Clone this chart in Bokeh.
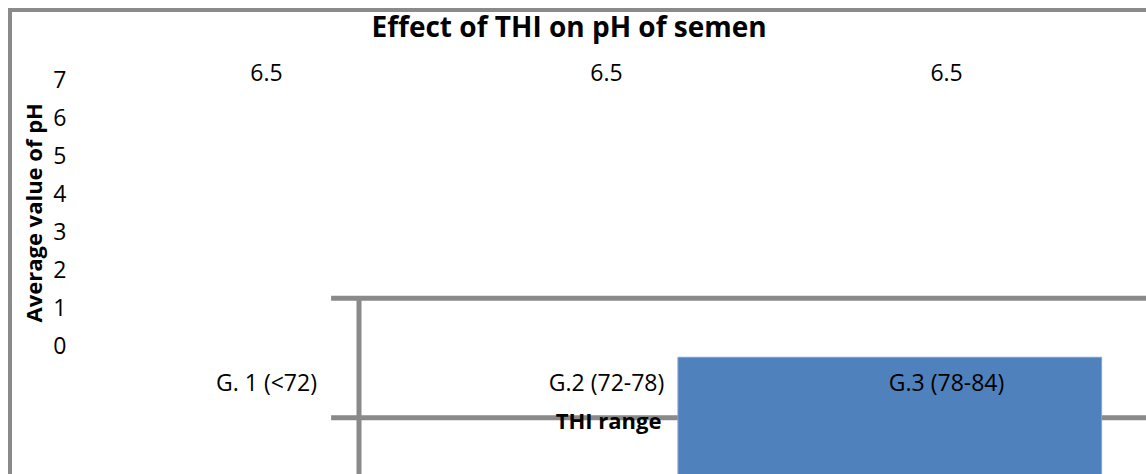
from bokeh.plotting import figure
from bokeh.models import Range1d, FixedTicker, Label, Title
from bokeh.core.properties import value
from bokeh.embed import file_html
from bokeh.resources import INLINE

# ---- chart content ----
categories = ["G. 1 (<72)", "G.2 (72-78)", "G.3 (78-84)"]
ph_values = [6.5, 6.5, 6.5]
y_ticks = [0, 1, 2, 3, 4, 5, 6, 7]
title_text = "Effect of THI on pH of semen"
y_title = "Average value of pH"
x_title = "THI range"

# ---- stray overlay shapes visible in the picture (data units) ----
overlay_hlines_y = [1.24, -1.90]
overlay_hline_x0 = 0.69
overlay_vline_x = [0.772]
overlay_bar_left = [1.71]
overlay_bar_right = [2.956]
overlay_bar_top = [-0.31]

X_START, X_END = 0.0, 3.088
Y_START, Y_END = -3.395, 8.868

FONT = "Open Sans"
GRAY = "#8a8a8a"
BLUE = "#4F81BD"

positions = [i + 0.5 for i in range(len(categories))]

p = figure(width=1138, height=466, output_backend="svg", toolbar_location=None,
           x_range=Range1d(X_START, X_END), y_range=Range1d(Y_START, Y_END),
           x_axis_location=None,
           min_border_left=88, min_border_right=0, min_border_top=0, min_border_bottom=0)
p.styles = {"margin-left": "8px", "margin-top": "8px",
            "box-shadow": f"inset 4px 4px 0 0 {GRAY}"}
p.outline_line_color = None
p.xgrid.visible = False
p.ygrid.visible = False
p.background_fill_color = None
p.border_fill_color = None

ax = p.yaxis[0]
ax.ticker = FixedTicker(ticks=y_ticks)
ax.axis_line_color = None
ax.major_tick_line_color = None
ax.minor_tick_line_color = None
ax.major_label_text_font = FONT
ax.major_label_text_font_size = "23px"
ax.major_label_text_color = "black"
ax.major_label_standoff = 24

p.add_layout(Title(text=y_title, align="left", offset=152, vertical_align="middle",
                   text_font=FONT, text_font_style="bold", text_font_size="22px",
                   text_color="black", standoff=4), "left")

# overlay lines and box
n = len(overlay_hlines_y)
p.segment(x0=[overlay_hline_x0] * n, x1=[X_END] * n, y0=overlay_hlines_y, y1=overlay_hlines_y,
          line_color=GRAY, line_width=5)
p.segment(x0=overlay_vline_x, x1=overlay_vline_x, y0=[overlay_hlines_y[0]], y1=[Y_START],
          line_color=GRAY, line_width=5)
p.quad(left=overlay_bar_left, right=overlay_bar_right, top=overlay_bar_top, bottom=[Y_START],
       fill_color=BLUE, line_color="#7ea3d6", line_width=1)

# data labels
p.text(x=positions, y=ph_values, text=[f"{v:g}" for v in ph_values], y_offset=-26,
       text_align="center", text_baseline="middle", text_font=value(FONT),
       text_font_size="23px", text_color="black")

# category labels
p.text(x=positions, y=[0] * len(categories), text=categories, y_offset=37,
       text_align="center", text_baseline="middle", text_font=value(FONT),
       text_font_size="23px", text_color="black")

p.add_layout(Label(x=1.39, y=8.42, text=title_text, text_align="center", text_baseline="middle",
                   text_font=FONT, text_font_style="bold", text_font_size="28px", text_color="black"))
p.add_layout(Label(x=1.506, y=-1.97, text=x_title, text_align="center", text_baseline="middle",
                   text_font=FONT, text_font_style="bold", text_font_size="22px", text_color="black"))

open("out.html", "w").write(file_html(p, INLINE))
